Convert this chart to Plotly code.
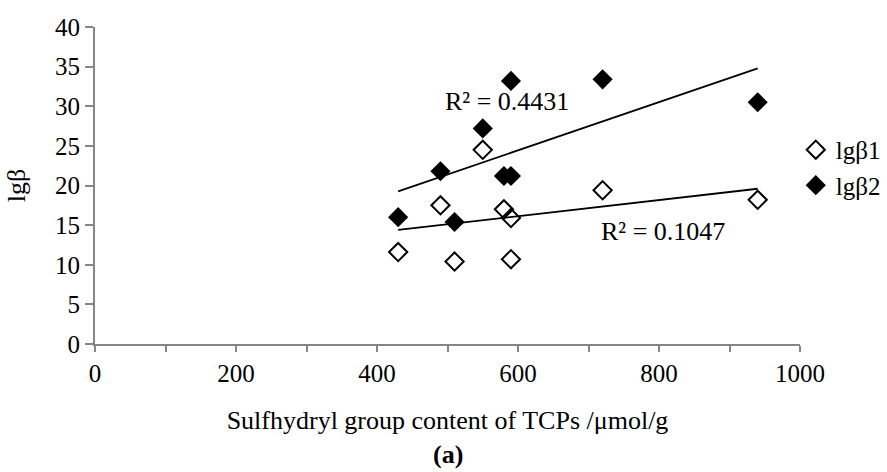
import numpy as np
import plotly.graph_objects as go

x_vals = [430, 490, 510, 550, 580, 590, 590, 720, 940]
lgb1 = [11.6, 17.5, 10.4, 24.5, 17.0, 15.9, 10.7, 19.4, 18.2]
lgb2 = [16.0, 21.8, 15.4, 27.2, 21.2, 21.2, 33.2, 33.4, 30.5]
series_names = ["lgβ1", "lgβ2"]
r2_labels = ["R² = 0.1047", "R² = 0.4431"]
x_ticks = [0, 100, 200, 300, 400, 500, 600, 700, 800, 900, 1000]
x_ticktext = ["0", "", "200", "", "400", "", "600", "", "800", "", "1000"]
y_ticks = [0, 5, 10, 15, 20, 25, 30, 35, 40]

FONT = "Liberation Serif"
AX = "#868686"
FS = 25

fig = go.Figure()
fig.add_trace(go.Scatter(x=x_vals, y=lgb1, mode="markers", name=series_names[0],
                         marker=dict(symbol="diamond-open", size=14, color="black",
                                     line=dict(width=2, color="black"))))
fig.add_trace(go.Scatter(x=x_vals, y=lgb2, mode="markers", name=series_names[1],
                         marker=dict(symbol="diamond", size=15.5, color="black")))

xa = np.array(x_vals, dtype=float)
xs = np.array([xa.min(), xa.max()])
for ys in (lgb1, lgb2):
    m, b = np.polyfit(xa, np.array(ys, dtype=float), 1)
    fig.add_trace(go.Scatter(x=xs, y=m * xs + b, mode="lines", showlegend=False,
                             line=dict(color="black", width=1.8), hoverinfo="skip"))

fig.add_annotation(x=806, y=14.2, text=r2_labels[0], showarrow=False,
                   font=dict(family=FONT, size=26, color="black"))
fig.add_annotation(x=584, y=30.6, text=r2_labels[1], showarrow=False,
                   font=dict(family=FONT, size=26, color="black"))
fig.add_annotation(x=0.5, y=-0.35, xref="paper", yref="paper", yanchor="middle",
                   text="<b>(a)</b>", showarrow=False,
                   font=dict(family=FONT, size=26, color="black"))

fig.update_layout(
    width=887, height=472,
    margin=dict(l=95, r=87, t=27, b=128, autoexpand=False),
    paper_bgcolor="white", plot_bgcolor="white",
    font=dict(family=FONT, size=FS, color="black"),
    showlegend=True,
    legend=dict(x=0.994, y=0.557, xanchor="left", yanchor="middle",
                font=dict(family=FONT, size=FS), itemwidth=30,
                bgcolor="rgba(0,0,0,0)", tracegroupgap=0),
    xaxis=dict(range=[0, 1000], tickvals=x_ticks, ticktext=x_ticktext,
               showgrid=False, zeroline=False, showline=True, linecolor=AX,
               linewidth=2, ticks="outside", ticklen=6, tickcolor=AX, tickwidth=1.5,
               tickfont=dict(family=FONT, size=FS),
               title=dict(text="Sulfhydryl group content of TCPs /μmol/g",
                          font=dict(family=FONT, size=26), standoff=25)),
    yaxis=dict(range=[0, 40], tickvals=y_ticks,
               showgrid=False, zeroline=False, showline=True, linecolor=AX,
               linewidth=2, ticks="outside", ticklen=8, tickcolor=AX, tickwidth=1.5,
               tickfont=dict(family=FONT, size=FS),
               title=dict(text="lgβ", font=dict(family=FONT, size=26), standoff=22)),
)

fig.write_html("out.html")
